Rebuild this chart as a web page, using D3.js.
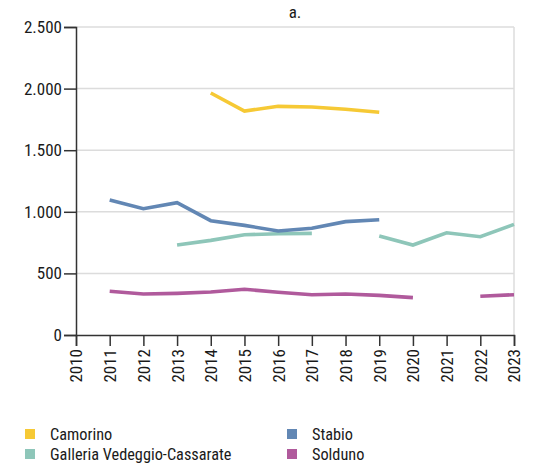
<!DOCTYPE html>
<html><head><meta charset="utf-8">
<script src="https://cdn.jsdelivr.net/npm/d3@7"></script>
<style>
body{margin:0;background:#fff;}
text{font-family:"Liberation Sans Narrow","Roboto Condensed","Arial Narrow",sans-serif;fill:#1a1a1a;}
</style></head>
<body>
<svg id="c" width="540" height="467"></svg>
<script>
const years = d3.range(2010, 2024);
const yTicks = [0, 500, 1000, 1500, 2000, 2500];
const seriesNames = ["Camorino", "Galleria Vedeggio-Cassarate", "Stabio", "Solduno"];
const colors = ["#f6c935", "#8ec6b9", "#6287b4", "#b05a9c"];
// values by year 2010..2023 (null = missing)
const camorino = [null,null,null,null,1964,1818,1856,1851,1832,1808,null,null,null,null];
const galleria = [null,null,null,730,768,814,822,825,null,803,730,830,798,898];
const stabio   = [null,1096,1025,1074,928,890,844,866,920,936,null,null,null,null];
const solduno  = [null,355,333,338,349,371,347,327,333,322,303,null,314,327];
const seriesValues = [camorino, galleria, stabio, solduno];

const svg = d3.select("#c");
const x = d3.scaleLinear().domain([2010, 2023]).range([76, 514]);
const y = d3.scaleLinear().domain([0, 2500]).range([335, 27]);
const FS = 17;

// gridlines
svg.append("g").selectAll("line").data(yTicks.filter(d=>d>0)).join("line")
  .attr("x1", 76).attr("x2", 514).attr("y1", d=>y(d)).attr("y2", d=>y(d))
  .attr("stroke", "#dcdcdc").attr("stroke-width", 1.5);
svg.append("line").attr("x1", 514).attr("x2", 514).attr("y1", 27).attr("y2", 335)
  .attr("stroke", "#dcdcdc").attr("stroke-width", 1.5);

// lines
const line = d3.line().defined(d=>d[1]!=null).x(d=>x(d[0])).y(d=>y(d[1]));
seriesValues.forEach((vals, i) => {
  svg.append("path").datum(years.map((yr, j)=>[yr, vals[j]]))
    .attr("d", line).attr("fill", "none").attr("stroke", colors[i])
    .attr("stroke-width", 3.6).attr("stroke-linejoin", "miter");
});

// axes
const yAxis = svg.append("g").attr("transform", "translate(76,0)")
  .call(d3.axisLeft(y).tickValues(yTicks).tickSize(12).tickPadding(2)
    .tickFormat(d => d3.format(",")(d).replace(/,/g, ".")));
const xAxis = svg.append("g").attr("transform", "translate(0,335)")
  .call(d3.axisBottom(x).tickValues(years).tickSize(11).tickFormat(d3.format("d")));
[yAxis, xAxis].forEach(g => {
  g.select(".domain").attr("stroke", "#333").attr("stroke-width", 1.5);
  g.selectAll(".tick line").attr("stroke", "#333").attr("stroke-width", 1.5);
  g.selectAll("text").attr("font-size", FS).attr("fill", "#1a1a1a")
    .attr("font-family", '"Liberation Sans Narrow","Roboto Condensed",sans-serif');
});
xAxis.selectAll("text").attr("transform", "rotate(-90)")
  .attr("text-anchor", "end").attr("x", -14).attr("y", 0).attr("dy", "0.35em");

// title
svg.append("text").attr("x", 295).attr("y", 18).attr("text-anchor", "middle")
  .attr("font-size", FS).text("a.");

// legend
const legendPos = [[25, 429], [25, 449], [287, 429], [287, 449]];
seriesNames.forEach((n, i) => {
  const g = svg.append("g").attr("transform", `translate(${legendPos[i][0]},${legendPos[i][1]})`);
  g.append("rect").attr("width", 10).attr("height", 10).attr("fill", colors[i]);
  g.append("text").attr("x", 25).attr("y", 10.5).attr("font-size", 16.3).text(n);
});
</script>
</body></html>
